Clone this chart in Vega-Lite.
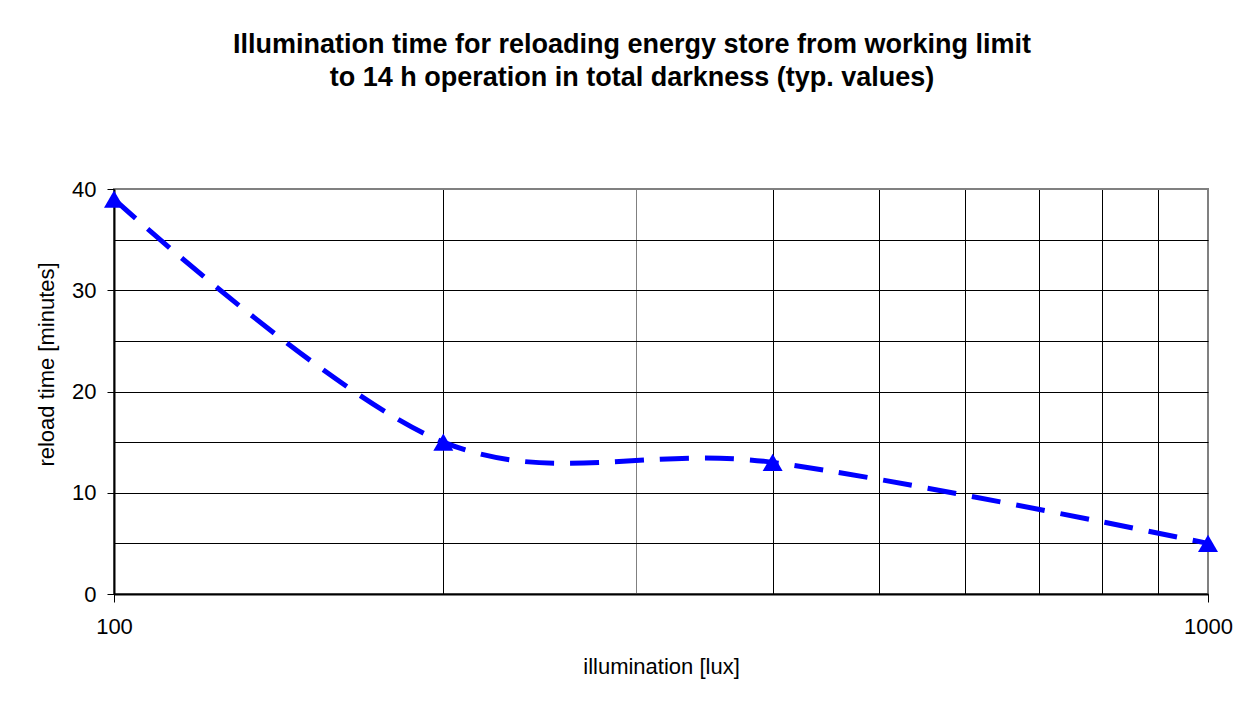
{
  "$schema": "https://vega.github.io/schema/vega-lite/v6.json",
  "width": 1094,
  "height": 405,
  "autosize": {"type": "none"},
  "padding": {"left": 114, "top": 189, "right": 50, "bottom": 109},
  "background": "white",
  "title": {
    "text": ["Illumination time for reloading energy store from working limit", "to 14 h operation in total darkness (typ. values)"],
    "font": "Liberation Sans",
    "fontSize": 27,
    "fontWeight": "bold",
    "color": "#000000",
    "anchor": "middle",
    "dx": -29,
    "lineHeight": 33,
    "offset": 86
  },
  "data": {
    "values": [
      {"illumination": 100, "reload": 39},
      {"illumination": 200, "reload": 15},
      {"illumination": 400, "reload": 13},
      {"illumination": 1000, "reload": 5}
    ]
  },
  "encoding": {
    "x": {
      "field": "illumination",
      "type": "quantitative",
      "scale": {"type": "log", "domain": [100, 1000], "nice": false},
      "axis": {
        "title": "illumination [lux]",
        "values": [100, 200, 300, 400, 500, 600, 700, 800, 900, 1000],
        "labelExpr": "datum.value == 100 || datum.value == 1000 ? format(datum.value, 'd') : ''",
        "labelOverlap": false,
        "labelBound": false,
        "labelFlush": false,
        "labelFont": "Liberation Sans",
        "labelFontSize": 22,
        "labelColor": "#000000",
        "labelPadding": 14,
        "tickSize": 8,
        "tickColor": "#000000",
        "tickWidth": 1,
        "tickOpacity": {"condition": {"test": "datum.value == 100 || datum.value == 1000", "value": 1}, "value": 0},
        "grid": true,
        "gridColor": {"condition": {"test": "datum.value == 300 || datum.value == 1000", "value": "#808080"}, "value": "#000000"},
        "gridWidth": 1,
        "gridOpacity": 1,
        "domainColor": "#000000",
        "domainWidth": 2,
        "titleFont": "Liberation Sans",
        "titleFontSize": 22,
        "titleFontWeight": "normal",
        "titleColor": "#000000",
        "titleBaseline": "alphabetic",
        "titleY": 79,
        "titleX": 547
      }
    },
    "y": {
      "field": "reload",
      "type": "quantitative",
      "scale": {"domain": [0, 40], "nice": false, "zero": true},
      "axis": {
        "title": "reload time [minutes]",
        "values": [0, 5, 10, 15, 20, 25, 30, 35, 40],
        "labelExpr": "datum.value % 10 == 0 ? datum.label : ''",
        "labelFont": "Liberation Sans",
        "labelFontSize": 22,
        "labelColor": "#000000",
        "labelPadding": 11,
        "tickSize": 7,
        "tickColor": "#000000",
        "tickWidth": 1,
        "tickOpacity": {"condition": {"test": "datum.value % 10 == 0", "value": 1}, "value": 0},
        "grid": true,
        "gridColor": {"condition": {"test": "datum.value == 40", "value": "#808080"}, "value": "#000000"},
        "gridWidth": 1,
        "gridOpacity": 1,
        "domainColor": "#000000",
        "domainWidth": 2,
        "titleFont": "Liberation Sans",
        "titleFontSize": 22,
        "titleFontWeight": "normal",
        "titleColor": "#000000",
        "titleAngle": -90,
        "titleBaseline": "alphabetic",
        "titleAlign": "center",
        "titleX": -61,
        "titleY": 175
      }
    }
  },
  "layer": [
    {
      "mark": {
        "type": "line",
        "interpolate": "cardinal",
        "color": "#0000FF",
        "strokeWidth": 5,
        "strokeDash": [29, 16],
        "strokeCap": "butt"
      }
    },
    {
      "mark": {
        "type": "point",
        "shape": "triangle-up",
        "filled": true,
        "color": "#0000FF",
        "size": 400,
        "opacity": 1
      }
    }
  ],
  "config": {
    "view": {"stroke": "#808080", "strokeWidth": 2}
  }
}
